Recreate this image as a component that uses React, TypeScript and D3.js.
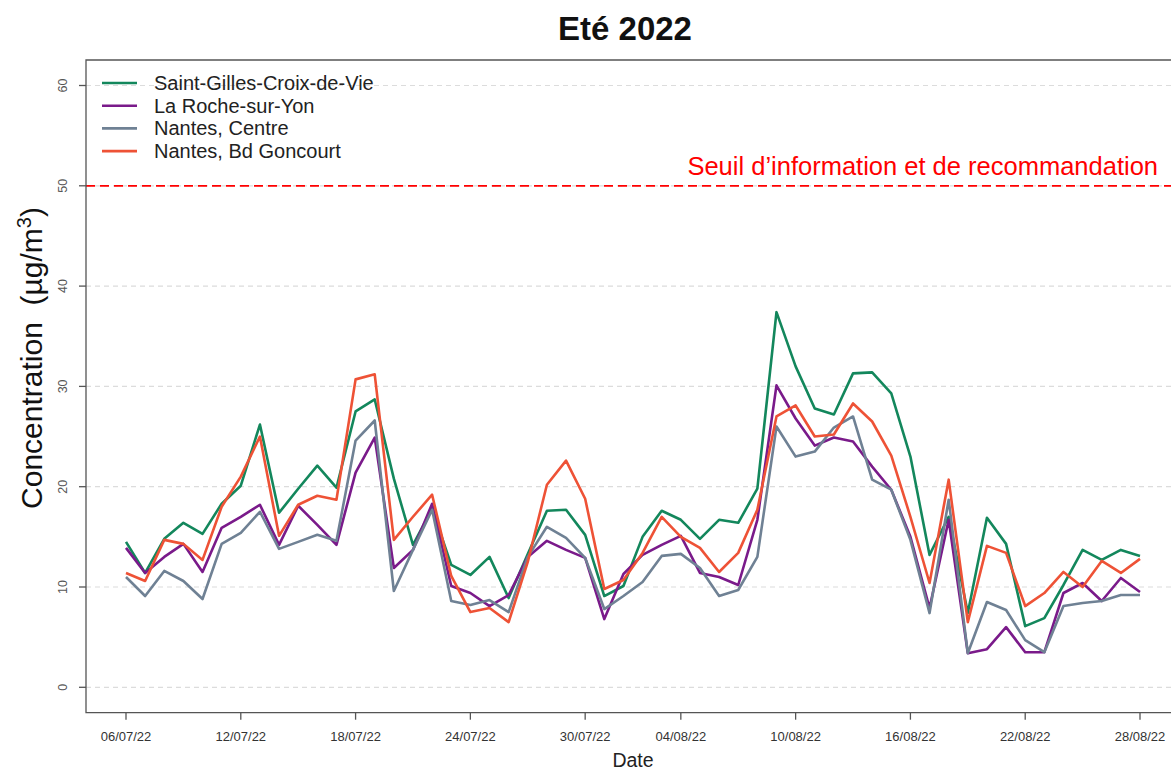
import React from "react";
import * as d3 from "d3";

const startDate = "2022-07-06";
const endDate = "2022-08-28";
const tickDates = ["2022-07-06", "2022-07-12", "2022-07-18", "2022-07-24", "2022-07-30", "2022-08-04", "2022-08-10", "2022-08-16", "2022-08-22", "2022-08-28"];
const yTicks = [0, 10, 20, 30, 40, 50, 60];
const threshold = 50;

const stGilles = [14.5, 11.4, 14.8, 16.4, 15.3, 18.3, 20.1, 26.2, 17.4, 19.8, 22.1, 19.9, 27.5, 28.7, 20.8, 14.2, 17.8, 12.2, 11.2, 13.0, 8.9, 13.3, 17.6, 17.7, 15.2, 9.1, 10.1, 15.0, 17.6, 16.7, 14.8, 16.7, 16.4, 19.8, 37.4, 32.0, 27.8, 27.2, 31.3, 31.4, 29.3, 23.0, 13.2, 17.0, 7.4, 16.9, 14.3, 6.1, 6.9, 10.2, 13.7, 12.7, 13.7, 13.1];
const laRoche = [13.9, 11.4, 13.0, 14.3, 11.5, 15.9, 17.0, 18.2, 14.2, 18.1, 16.2, 14.2, 21.4, 24.9, 11.9, 13.7, 18.3, 10.1, 9.4, 8.1, 9.2, 13.0, 14.6, 13.7, 12.9, 6.8, 11.3, 13.2, 14.2, 15.1, 11.4, 11.0, 10.2, 16.7, 30.1, 26.8, 24.1, 24.9, 24.5, 22.0, 19.7, 15.0, 7.9, 16.7, 3.4, 3.8, 6.0, 3.5, 3.5, 9.4, 10.4, 8.6, 10.9, 9.5];
const nantesCentre = [11.0, 9.1, 11.6, 10.6, 8.8, 14.3, 15.4, 17.5, 13.8, 14.5, 15.2, 14.6, 24.6, 26.6, 9.6, 13.7, 17.7, 8.6, 8.2, 8.7, 7.5, 13.0, 16.0, 14.9, 12.9, 7.8, 9.1, 10.5, 13.1, 13.3, 11.9, 9.1, 9.7, 13.0, 26.0, 23.0, 23.5, 25.9, 27.0, 20.7, 19.7, 14.7, 7.4, 18.7, 3.4, 8.5, 7.7, 4.7, 3.5, 8.1, 8.4, 8.6, 9.2, 9.2];
const goncourt = [11.4, 10.6, 14.7, 14.3, 12.7, 18.0, 21.0, 25.0, 15.1, 18.2, 19.1, 18.7, 30.7, 31.2, 14.7, 17.0, 19.2, 11.1, 7.5, 7.9, 6.5, 12.5, 20.2, 22.6, 18.8, 9.8, 10.7, 13.4, 17.0, 15.0, 13.9, 11.5, 13.4, 17.7, 27.0, 28.1, 25.0, 25.2, 28.3, 26.5, 23.1, 17.0, 10.4, 20.7, 6.5, 14.1, 13.4, 8.1, 9.4, 11.5, 10.0, 12.6, 11.4, 12.8];

const seriesNames = ["Saint-Gilles-Croix-de-Vie", "La Roche-sur-Yon", "Nantes, Centre", "Nantes, Bd Goncourt"];
const seriesValues = [stGilles, laRoche, nantesCentre, goncourt];
const seriesColors = ["#13875c", "#7a1a8a", "#6f8194", "#ee5236"];
const drawOrder = [0, 1, 2, 3];

const FONT = "Arial, 'Liberation Sans', Helvetica, sans-serif";

export default function App() {
  const W = 1171, H = 772;
  const parse = d3.utcParse("%Y-%m-%d");
  const t0 = parse(startDate)!;
  const t1 = parse(endDate)!;
  const dates = d3.utcDay.range(t0, d3.utcDay.offset(t1, 1));
  const x = d3.scaleUtc().domain([t0, t1]).range([126, 1140]);
  const y = d3.scaleLinear().domain([0, 60]).range([687.3, 85.5]);
  const fmt = d3.utcFormat("%d/%m/%y");
  const line = d3.line<number>().x((_, i) => x(dates[i])).y((d) => y(d));

  const boxL = 86, boxT = 60, boxB = 712.7, boxR = 1190;

  return (
    <svg width={W} height={H} style={{ position: "absolute", left: 0, top: 0, background: "#fff" }} fontFamily={FONT}>
      <rect x={0} y={0} width={W} height={H} fill="#fff" />
      {/* grid */}
      {yTicks.map((v) => (
        <line key={"g" + v} x1={boxL} x2={boxR} y1={y(v)} y2={y(v)} stroke="#dcdcdc" strokeWidth={1.2} strokeDasharray="5,4" />
      ))}
      {/* threshold */}
      <line x1={boxL} x2={boxR} y1={y(threshold)} y2={y(threshold)} stroke="#ff0000" strokeWidth={1.8} strokeDasharray="9,5" />
      <text x={1158} y={175} textAnchor="end" fontSize={25.5} fill="#ff0000">Seuil d’information et de recommandation</text>
      {/* series */}
      {drawOrder.map((k) => (
        <path key={"s" + k} d={line(seriesValues[k]) || ""} fill="none" stroke={seriesColors[k]} strokeWidth={2.6} strokeLinejoin="round" />
      ))}
      {/* box */}
      <path d={`M${boxR},${boxT}H${boxL}V${boxB}H${boxR}`} fill="none" stroke="#555" strokeWidth={1.3} />
      {/* x ticks */}
      {tickDates.map((s) => {
        const px = x(parse(s)!);
        return (
          <g key={"x" + s}>
            <line x1={px} x2={px} y1={boxB} y2={boxB + 7} stroke="#555" strokeWidth={1.3} />
            <text x={px} y={741} textAnchor="middle" fontSize={13} fill="#333">{fmt(parse(s)!)}</text>
          </g>
        );
      })}
      {/* y ticks */}
      {yTicks.map((v) => (
        <g key={"y" + v}>
          <line x1={boxL - 7} x2={boxL} y1={y(v)} y2={y(v)} stroke="#555" strokeWidth={1.3} />
          <text transform={`translate(67,${y(v)}) rotate(-90)`} textAnchor="middle" fontSize={12.5} fill="#555">{v}</text>
        </g>
      ))}
      {/* legend */}
      {seriesNames.map((n, i) => {
        const ly = 83 + i * 22.7;
        return (
          <g key={"l" + i}>
            <line x1={102} x2={137} y1={ly} y2={ly} stroke={seriesColors[i]} strokeWidth={2.6} />
            <text x={154} y={ly + 7} fontSize={20} fill="#222">{n}</text>
          </g>
        );
      })}
      {/* titles */}
      <text x={625} y={40} textAnchor="middle" fontSize={33} fontWeight="bold" fill="#111">Eté 2022</text>
      <text x={633} y={767} textAnchor="middle" fontSize={19.5} fill="#222">Date</text>
      <text transform={`translate(42,358) rotate(-90)`} textAnchor="middle" fontSize={30} fill="#111">
        Concentration{"\u00a0\u00a0"}(µg/m<tspan fontSize={20} dy={-11}>3</tspan><tspan dy={11}>)</tspan>
      </text>
    </svg>
  );
}
